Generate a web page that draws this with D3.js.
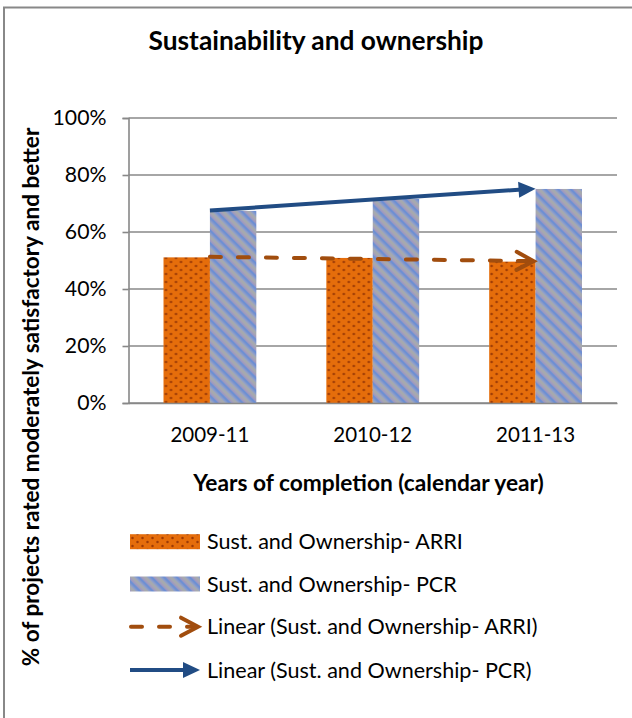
<!DOCTYPE html>
<html><head><meta charset="utf-8">
<script src="https://cdn.jsdelivr.net/npm/d3@7"></script>
<style>
html,body{margin:0;padding:0;background:#fff;}
svg{display:block;font-family:Lato,"Open Sans",sans-serif;}
</style></head>
<body>
<svg id="chart" width="632" height="718"></svg>
<script>
const title = "Sustainability and ownership";
const xTitle = "Years of completion (calendar year)";
const yTitle = "% of projects rated moderately satisfactory and better";
const categories = ["2009-11", "2010-12", "2011-13"];
const arriValues = [0.511, 0.509, 0.496];
const pcrValues = [0.674, 0.716, 0.751];
const yTicks = [0, 0.2, 0.4, 0.6, 0.8, 1.0];
const seriesNames = ["Sust. and Ownership- ARRI", "Sust. and Ownership- PCR"];
const trendNames = ["Linear (Sust. and Ownership- ARRI)", "Linear (Sust. and Ownership- PCR)"];

const svg = d3.select("#chart");
const plot = {left: 128.5, right: 617, top: 118, bottom: 403};
const gridColor = "#888888";
const arriTrendColor = "#A14D0E";
const pcrTrendColor = "#214C84";

function fit(sel, targetW, base) {
  sel.style("font-size", base + "px");
  const w = sel.node().getComputedTextLength();
  const fs = base * targetW / w;
  sel.style("font-size", fs + "px");
  return fs;
}

// patterns
const defs = svg.append("defs");
const dots = defs.append("pattern").attr("id", "dots").attr("patternUnits", "userSpaceOnUse")
  .attr("width", 10).attr("height", 8);
dots.append("rect").attr("width", 10).attr("height", 8).attr("fill", "#E56D0B");
dots.append("circle").attr("cx", 2.5).attr("cy", 2).attr("r", 1.25).attr("fill", "#9C3A06");
dots.append("circle").attr("cx", 7.5).attr("cy", 6).attr("r", 1.25).attr("fill", "#9C3A06");

const stripes = defs.append("pattern").attr("id", "stripes").attr("patternUnits", "userSpaceOnUse")
  .attr("width", 9).attr("height", 9).attr("patternTransform", "rotate(-45)");
stripes.append("rect").attr("width", 9).attr("height", 9).attr("fill", "#A6A9AF");
stripes.append("rect").attr("x", 2).attr("width", 1.5).attr("height", 9).attr("fill", "#8FA0CC");
stripes.append("rect").attr("x", 3.5).attr("width", 3).attr("height", 9).attr("fill", "#6E8FD4");
stripes.append("rect").attr("x", 6.5).attr("width", 1.5).attr("height", 9).attr("fill", "#A59ABF");

// frame
svg.append("rect").attr("x", 4).attr("y", 7.5).attr("width", 800).attr("height", 900)
  .attr("fill", "none").attr("stroke", "#888").attr("stroke-width", 2);

// scales
const x0 = d3.scaleBand().domain(categories).range([plot.left, plot.right])
  .paddingInner(0.43).paddingOuter(0.215);
const x1 = d3.scaleBand().domain(seriesNames).range([0, x0.bandwidth()]).padding(0);
const y = d3.scaleLinear().domain([0, 1]).range([plot.bottom, plot.top]);

// gridlines
svg.append("g").selectAll("line").data(yTicks).join("line")
  .attr("x1", plot.left).attr("x2", plot.right)
  .attr("y1", d => y(d)).attr("y2", d => y(d))
  .attr("stroke", gridColor).attr("stroke-width", 1.6);

// y axis
const yAxis = svg.append("g").attr("transform", `translate(${plot.left},0)`)
  .call(d3.axisLeft(y).tickValues(yTicks).tickFormat(d3.format(".0%")).tickSize(6).tickPadding(16));
yAxis.select(".domain").attr("stroke", gridColor).attr("stroke-width", 1.6);
yAxis.selectAll(".tick line").attr("stroke", gridColor).attr("stroke-width", 1.6);
yAxis.selectAll(".tick text").attr("fill", "#000").style("font-family", "Lato");
const yTickFs = fit(yAxis.selectAll(".tick text").filter(d => d === 1), 54, 20);
yAxis.selectAll(".tick text").style("font-size", yTickFs + "px");

// bars
const rows = categories.map((c, i) => ({cat: c, vals: [arriValues[i], pcrValues[i]]}));
const groups = svg.append("g").selectAll("g").data(rows).join("g")
  .attr("transform", d => `translate(${x0(d.cat)},0)`);
groups.selectAll("rect").data(d => d.vals.map((v, j) => ({key: seriesNames[j], v, j}))).join("rect")
  .attr("x", d => x1(d.key)).attr("width", x1.bandwidth())
  .attr("y", d => y(d.v)).attr("height", d => y(0) - y(d.v))
  .attr("fill", d => d.j === 0 ? "url(#dots)" : "url(#stripes)");

// x axis
const xAxis = svg.append("g").attr("transform", `translate(0,${plot.bottom})`)
  .call(d3.axisBottom(x0).tickSize(0).tickPadding(25));
xAxis.select(".domain").attr("stroke", gridColor).attr("stroke-width", 1.6);
xAxis.selectAll(".tick text").attr("fill", "#000").style("font-family", "Lato")
  .attr("dy", null).attr("y", 39);
const xTickFs = fit(xAxis.selectAll(".tick text").filter(d => d === categories[0]), 79, 20);
xAxis.selectAll(".tick text").style("font-size", xTickFs + "px");

// trend lines (least squares, as spreadsheet linear trendline)
function linreg(vals) {
  const n = vals.length, xs = vals.map((_, i) => i + 1);
  const mx = d3.mean(xs), my = d3.mean(vals);
  const b = d3.sum(xs.map((xv, i) => (xv - mx) * (vals[i] - my))) / d3.sum(xs.map(xv => (xv - mx) ** 2));
  const a = my - b * mx;
  return [a + b * 1, a + b * n];
}
const cx = c => x0(c) + x0.bandwidth() / 2;
function drawArrow(g, x1p, y1p, x2p, y2p, color, dashed, shorten) {
  const ang = Math.atan2(y2p - y1p, x2p - x1p);
  const ex = x2p - Math.cos(ang) * shorten, ey = y2p - Math.sin(ang) * shorten;
  g.append("line").attr("x1", x1p).attr("y1", y1p).attr("x2", ex).attr("y2", ey)
    .attr("stroke", color).attr("stroke-width", 4)
    .attr("stroke-dasharray", dashed ? "11,17" : null)
    .attr("stroke-linecap", dashed ? "round" : "butt");
  const deg = ang * 180 / Math.PI;
  if (dashed) {
    g.append("path").attr("d", "M-19,-9 L-2,0 L-19,9")
      .attr("transform", `translate(${x2p},${y2p}) rotate(${deg})`)
      .attr("fill", "none").attr("stroke", color).attr("stroke-width", 4)
      .attr("stroke-linecap", "round").attr("stroke-linejoin", "miter");
  } else {
    g.append("path").attr("d", "M0,0 L-17,-8 L-17,8 Z")
      .attr("transform", `translate(${x2p},${y2p}) rotate(${deg})`)
      .attr("fill", color);
  }
}
const trendG = svg.append("g");
const arriT = linreg(arriValues), pcrT = linreg(pcrValues);
const first = categories[0], last = categories[categories.length - 1];
drawArrow(trendG, cx(first), y(arriT[0]), cx(last), y(arriT[1]), arriTrendColor, true, 4);
drawArrow(trendG, cx(first), y(pcrT[0]), cx(last), y(pcrT[1]), pcrTrendColor, false, 10);

// title
const t = svg.append("text").attr("x", 316).attr("y", 50).attr("text-anchor", "middle")
  .style("font-weight", "bold").text(title);
fit(t, 335, 22);

// x title
const xt = svg.append("text").attr("x", 368.5).attr("y", 491).attr("text-anchor", "middle")
  .style("font-weight", "bold").text(xTitle);
fit(xt, 351, 20);

// y title
const yt = svg.append("text").attr("transform", "translate(39,397) rotate(-90)")
  .attr("text-anchor", "middle").style("font-weight", "bold").text(yTitle);
fit(yt, 539, 18);

// legend
const legendY = [541.7, 584, 626.7, 670];
const legendLabels = seriesNames.concat(trendNames);
const lg = svg.append("g");
const lx0 = 130, lx1 = 200;
lg.append("rect").attr("x", lx0).attr("y", legendY[0] - 7.5).attr("width", lx1 - lx0).attr("height", 15).attr("fill", "url(#dots)");
lg.append("rect").attr("x", lx0).attr("y", legendY[1] - 7.5).attr("width", lx1 - lx0).attr("height", 15).attr("fill", "url(#stripes)");
drawArrow(lg, lx0 + 1, legendY[2], lx1, legendY[2], arriTrendColor, true, 4);
drawArrow(lg, lx0, legendY[3], lx1, legendY[3], pcrTrendColor, false, 10);
const lt = lg.selectAll("text.lab").data(legendLabels).join("text").attr("class", "lab")
  .attr("x", 207).attr("y", (d, i) => legendY[i]).attr("dy", "0.36em").text(d => d);
const lfs = fit(lt.filter((d, i) => i === 0), 256, 18);
lt.style("font-size", lfs + "px");
</script>
</body></html>
